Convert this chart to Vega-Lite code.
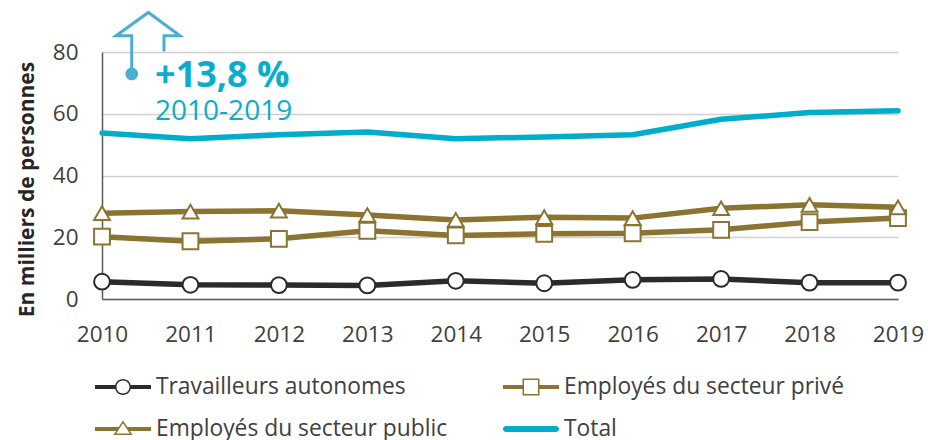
{
  "$schema": "https://vega.github.io/schema/vega-lite/v6.json",
  "autosize": {"type": "none"},
  "width": 796,
  "height": 247,
  "padding": {"left": 102, "top": 52, "right": 30, "bottom": 141},
  "background": "white",
  "config": {"view": {"stroke": null}, "font": "Open Sans"},
  "encoding": {
    "x": {
      "field": "year", "type": "quantitative",
      "scale": {"domain": [2010, 2019], "nice": false, "zero": false},
      "axis": {
        "title": null, "values": [2010, 2011, 2012, 2013, 2014, 2015, 2016, 2017, 2018, 2019],
        "format": "d", "grid": false, "ticks": false,
        "labelFont": "Open Sans", "labelFontSize": 22.5, "labelColor": "#404040",
        "labelPadding": 24, "domainColor": "#595959", "domainWidth": 1.5, "labelFlush": false
      }
    },
    "y": {
      "field": "value", "type": "quantitative",
      "scale": {"domain": [0, 80], "nice": false},
      "axis": {
        "title": "En milliers de personnes", "values": [0, 20, 40, 60, 80],
        "grid": true, "gridColor": "#D0D0D0", "gridWidth": 1.5, "ticks": false,
        "labelFont": "Open Sans", "labelFontSize": 22.5, "labelColor": "#404040",
        "labelPadding": 24, "domainColor": "#595959", "domainWidth": 1.5,
        "titleFont": "Open Sans", "titleFontSize": 21, "titleFontWeight": "bold", "titleColor": "#262626",
        "titleAngle": -90, "titleAlign": "center", "titleBaseline": "alphabetic",
        "titleX": -69, "titleY": 137
      }
    }
  },
  "layer": [
    {
      "data": {"name": "series"},
      "mark": {"type": "line", "strokeWidth": 5.5, "strokeCap": "round", "strokeJoin": "round"},
      "encoding": {
        "color": {
          "field": "series", "type": "nominal",
          "scale": {
            "domain": ["Travailleurs autonomes", "Employés du secteur privé", "Employés du secteur public", "Total"],
            "range": ["#2B2B2B", "#8B7431", "#8B7431", "#00ADCB"]
          },
          "legend": {
            "title": null, "orient": "none", "legendX": 1, "legendY": 315,
            "columns": 2, "direction": "horizontal",
            "symbolSize": 1600, "symbolStrokeWidth": 0,
            "labelFont": "Open Sans", "labelFontSize": 22.8, "labelColor": "#404040", "labelLimit": 0,
            "labelOffset": 13, "columnPadding": 55, "rowPadding": 10,
            "encode": {
              "symbols": {
                "update": {
                  "shape": {"signal": "datum.value === 'Total' ? 'M-1.25,-0.15H1.25A0.15,0.15 0 0 1 1.25,0.15H-1.25A0.15,0.15 0 0 1 -1.25,-0.15Z' : datum.value === 'Travailleurs autonomes' ? 'M-1.4,-0.1H-0.36V0.1H-1.4Z M0.36,-0.1H1.4V0.1H0.36Z M0.4,0A0.4,0.4 0 1 1 -0.4,0A0.4,0.4 0 1 1 0.4,0Z M0.325,0A0.325,0.325 0 1 0 -0.325,0A0.325,0.325 0 1 0 0.325,0Z' : datum.value === 'Employés du secteur privé' ? 'M-1.4,-0.1H-0.4V0.1H-1.4Z M0.4,-0.1H1.4V0.1H0.4Z M-0.425,-0.425H0.425V0.425H-0.425Z M-0.35,-0.35V0.35H0.35V-0.35Z' : 'M-1.4,-0.1L-0.17,-0.1L-0.3,0.1L-1.4,0.1Z M0.17,-0.1L1.4,-0.1L1.4,0.1L0.3,0.1Z M0,-0.42L0.48,0.3L-0.48,0.3Z M0,-0.285L-0.34,0.225L0.34,0.225Z'"},
                  "fill": {"signal": "scale('color', datum.value)"},
                  "stroke": {"value": "transparent"},
                  "strokeWidth": {"value": 0},
                  "opacity": {"value": 1}
                }
              }
            }
          }
        }
      }
    },
    {
      "data": {"name": "series"},
      "transform": [{"filter": "datum.series !== 'Total'"}],
      "mark": {"type": "point", "filled": false, "fill": "white", "fillOpacity": 1, "opacity": 1, "strokeWidth": 2, "size": 250},
      "encoding": {
        "shape": {
          "field": "series", "type": "nominal",
          "scale": {
            "domain": ["Travailleurs autonomes", "Employés du secteur privé", "Employés du secteur public"],
            "range": ["circle", "square", "triangle-up"]
          },
          "legend": null
        },
        "stroke": {
          "field": "series", "type": "nominal",
          "scale": {
            "domain": ["Travailleurs autonomes", "Employés du secteur privé", "Employés du secteur public"],
            "range": ["#2B2B2B", "#8B7431", "#8B7431"]
          },
          "legend": null
        }
      }
    },
    {
      "data": {"name": "arrow"},
      "mark": {"type": "line", "color": "#49AED0", "strokeWidth": 3, "strokeJoin": "miter"},
      "encoding": {"order": {"field": "o", "type": "quantitative"}}
    },
    {
      "data": {"name": "dot"},
      "mark": {"type": "point", "filled": true, "color": "#49AED0", "opacity": 1, "size": 160, "shape": "circle"}
    },
    {
      "data": {"name": "pct"},
      "mark": {"type": "text", "font": "Open Sans", "fontSize": 36, "fontWeight": "bold", "color": "#0AADCB", "align": "left", "baseline": "alphabetic"},
      "encoding": {"text": {"field": "label"}}
    },
    {
      "data": {"name": "period"},
      "mark": {"type": "text", "font": "Open Sans", "fontSize": 28, "color": "#0AADCB", "align": "left", "baseline": "alphabetic"},
      "encoding": {"text": {"field": "label"}}
    }
  ],
  "datasets": {
    "series": [
      {"series": "Travailleurs autonomes", "year": 2010, "value": 5.6},
      {"series": "Travailleurs autonomes", "year": 2011, "value": 4.6},
      {"series": "Travailleurs autonomes", "year": 2012, "value": 4.5},
      {"series": "Travailleurs autonomes", "year": 2013, "value": 4.4},
      {"series": "Travailleurs autonomes", "year": 2014, "value": 5.9},
      {"series": "Travailleurs autonomes", "year": 2015, "value": 5.1},
      {"series": "Travailleurs autonomes", "year": 2016, "value": 6.2},
      {"series": "Travailleurs autonomes", "year": 2017, "value": 6.5},
      {"series": "Travailleurs autonomes", "year": 2018, "value": 5.3},
      {"series": "Travailleurs autonomes", "year": 2019, "value": 5.3},
      {"series": "Employés du secteur privé", "year": 2010, "value": 20.2},
      {"series": "Employés du secteur privé", "year": 2011, "value": 18.7},
      {"series": "Employés du secteur privé", "year": 2012, "value": 19.5},
      {"series": "Employés du secteur privé", "year": 2013, "value": 22.1},
      {"series": "Employés du secteur privé", "year": 2014, "value": 20.6},
      {"series": "Employés du secteur privé", "year": 2015, "value": 21.1},
      {"series": "Employés du secteur privé", "year": 2016, "value": 21.3},
      {"series": "Employés du secteur privé", "year": 2017, "value": 22.4},
      {"series": "Employés du secteur privé", "year": 2018, "value": 24.9},
      {"series": "Employés du secteur privé", "year": 2019, "value": 26.2},
      {"series": "Employés du secteur public", "year": 2010, "value": 27.8},
      {"series": "Employés du secteur public", "year": 2011, "value": 28.3},
      {"series": "Employés du secteur public", "year": 2012, "value": 28.6},
      {"series": "Employés du secteur public", "year": 2013, "value": 27.2},
      {"series": "Employés du secteur public", "year": 2014, "value": 25.6},
      {"series": "Employés du secteur public", "year": 2015, "value": 26.5},
      {"series": "Employés du secteur public", "year": 2016, "value": 26.2},
      {"series": "Employés du secteur public", "year": 2017, "value": 29.4},
      {"series": "Employés du secteur public", "year": 2018, "value": 30.5},
      {"series": "Employés du secteur public", "year": 2019, "value": 29.7},
      {"series": "Total", "year": 2010, "value": 53.8},
      {"series": "Total", "year": 2011, "value": 51.9},
      {"series": "Total", "year": 2012, "value": 53.2},
      {"series": "Total", "year": 2013, "value": 54.1},
      {"series": "Total", "year": 2014, "value": 51.9},
      {"series": "Total", "year": 2015, "value": 52.5},
      {"series": "Total", "year": 2016, "value": 53.2},
      {"series": "Total", "year": 2017, "value": 58.2},
      {"series": "Total", "year": 2018, "value": 60.4},
      {"series": "Total", "year": 2019, "value": 61.0}
    ],
    "arrow": [
      {"o": 1, "year": 2010.336, "value": 72.9},
      {"o": 2, "year": 2010.336, "value": 85.25},
      {"o": 3, "year": 2010.158, "value": 85.25},
      {"o": 4, "year": 2010.524, "value": 92.8},
      {"o": 5, "year": 2010.882, "value": 85.25},
      {"o": 6, "year": 2010.701, "value": 85.25},
      {"o": 7, "year": 2010.701, "value": 80.2}
    ],
    "dot": [{"year": 2010.336, "value": 72.9}],
    "pct": [{"year": 2010.6, "value": 68.7, "label": "+13,8 %"}],
    "period": [{"year": 2010.6, "value": 58.0, "label": "2010-2019"}]
  }
}
